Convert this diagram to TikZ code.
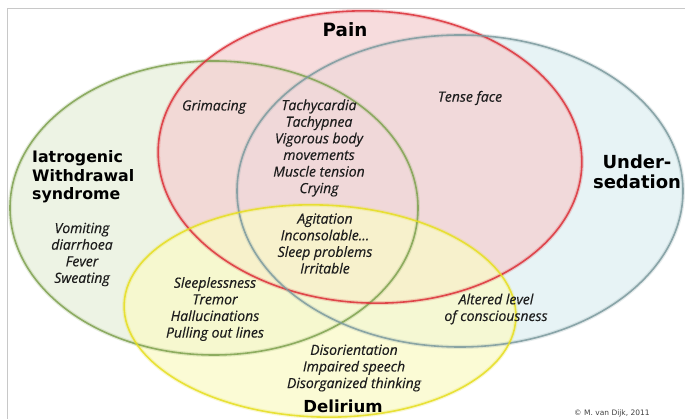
\documentclass[tikz,border=0pt]{standalone}
\usepackage{fontspec}
\setmainfont{Open Sans}
\newfontfamily\itemfont{Open Sans}[ItalicFeatures={FakeBold=0.4}]
\newfontfamily\lblfont{DejaVu Sans}
\definecolor{redfill}{HTML}{F5D1D2}
\definecolor{greenfill}{HTML}{E8F0DB}
\definecolor{bluefill}{HTML}{E0EFF2}
\definecolor{yellowfill}{HTML}{FAFAC8}
\definecolor{redline}{HTML}{DC3038}
\definecolor{greenline}{HTML}{7FA250}
\definecolor{blueline}{HTML}{7C9A9E}
\definecolor{yellowline}{HTML}{E6DE20}
\definecolor{framegray}{HTML}{C8C8C8}
\definecolor{txt}{HTML}{1E1E1E}
\tikzset{
  setfill/.style={fill=#1, fill opacity=0.75},
  setline/.style={draw=#1, line width=1.6pt, draw opacity=0.85},
  setglow/.style={draw=#1, line width=4pt, draw opacity=0.2},
  item/.style={font=\itemfont\itshape\fontsize{14}{16.6}\selectfont, text=txt, align=center, inner sep=0pt},
  biglabel/.style={font=\lblfont\bfseries\fontsize{#1}{18.5}\selectfont, text=black, inner sep=0pt},
  biglabel/.default=16,
}
\begin{document}
\begin{tikzpicture}[x=1pt,y=1pt]
\useasboundingbox (0,0) rectangle (685,418);
\clip (0,0) rectangle (685,418);
\fill[white] (0,0) rectangle (685,418);
% frame
\draw[framegray, line width=1pt] (7,-2) -- (7,409) -- (690,409);
% fills
\fill[setfill=greenfill] (214,210) ellipse [x radius=204, y radius=147];
\fill[setfill=bluefill] (460,227) ellipse [x radius=223, y radius=156];
\fill[setfill=redfill, rotate around={-2.5:(370,261)}] (370,261) ellipse [x radius=212, y radius=146];
\fill[setfill=yellowfill, rotate around={-2:(320,107)}] (320,107) ellipse [x radius=196, y radius=106];
% glows and outlines
\draw[setglow=greenline] (214,210) ellipse [x radius=204, y radius=147];
\draw[setglow=redline, rotate around={-2.5:(370,261)}] (370,261) ellipse [x radius=212, y radius=146];
\draw[setglow=blueline] (460,227) ellipse [x radius=223, y radius=156];
\draw[setglow=yellowline, rotate around={-2:(320,107)}] (320,107) ellipse [x radius=196, y radius=106];
\draw[setline=greenline] (214,210) ellipse [x radius=204, y radius=147];
\draw[setline=redline, rotate around={-2.5:(370,261)}] (370,261) ellipse [x radius=212, y radius=146];
\draw[setline=blueline] (460,227) ellipse [x radius=223, y radius=156];
\draw[setline=yellowline, rotate around={-2:(320,107)}] (320,107) ellipse [x radius=196, y radius=106];
% labels
\node[biglabel=18.3] (pain) at (345,388) {Pain};
\node[biglabel=15.8, anchor=west, align=left] (iws) at (32,241) {Iatrogenic\\Withdrawal\\syndrome};
\node[biglabel=18, align=center, font=\lblfont\bfseries\fontsize{18}{20}\selectfont] (under) at (637,246) {Under-\\sedation};
\node[biglabel=16.6] (delirium) at (343,12) {Delirium};
% items
\node[item] (grim) at (214,311) {Grimacing};
\node[item] (tachy) at (319,270) {Tachycardia\\Tachypnea\\Vigorous body\\movements\\Muscle tension\\Crying};
\node[item] (tense) at (470,320) {Tense face};
\node[item] (vomit) at (82,163.5) {Vomiting\\diarrhoea\\Fever\\Sweating};
\node[item] (agit) at (325,174.5) {Agitation\\Inconsolable...\\Sleep problems\\Irritable};
\node[item] (sleep) at (215,109) {Sleeplessness\\Tremor\\Hallucinations\\Pulling out lines};
\node[item] (alter) at (496,109) {Altered level\\of consciousness};
\node[item] (disor) at (354,50) {Disorientation\\Impaired speech\\Disorganized thinking};
\node[font=\lblfont\fontsize{7.5}{9}\selectfont, text=black!75, anchor=base west, inner sep=0pt] (copy) at (574,3) {© M. van Dijk, 2011};
\end{tikzpicture}
\end{document}
